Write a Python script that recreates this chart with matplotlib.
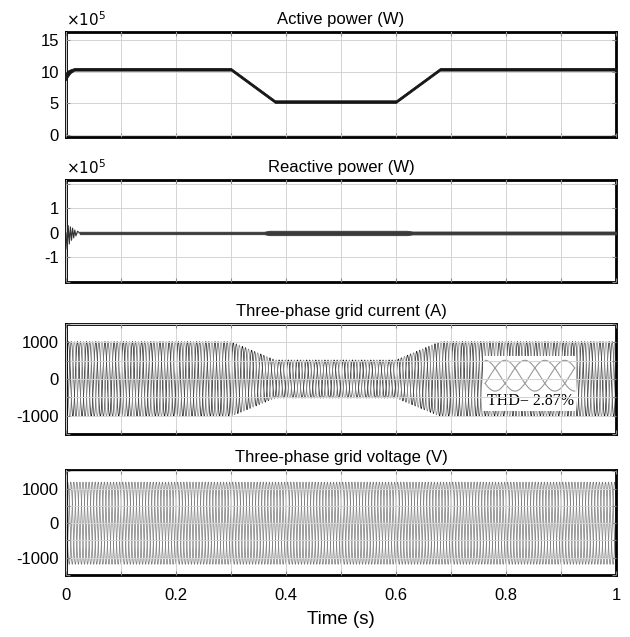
import numpy as np
import matplotlib
matplotlib.use('Agg')
import matplotlib.pyplot as plt
from matplotlib.patches import Rectangle

plt.rcParams['font.family'] = ['Liberation Sans', 'DejaVu Sans']

# ---- data ----
titles = ['Active power (W)', 'Reactive power (W)',
          'Three-phase grid current (A)', 'Three-phase grid voltage (V)']
time_ticks = [0, 0.1, 0.2, 0.3, 0.4, 0.5, 0.6, 0.7, 0.8, 0.9, 1.0]
time_labels = ['0', '', '0.2', '', '0.4', '', '0.6', '', '0.8', '', '1']

# active power, x10^5 W (centre of trace and half thickness of the noise band)
p_t = [0, 0.003, 0.008, 0.015, 0.3, 0.38, 0.6, 0.68, 1.0]
p_mid = [9.3, 9.7, 10.1, 10.4, 10.4, 5.3, 5.3, 10.4, 10.4]
p_half = [0.6, 0.5, 0.3, 0.2, 0.2, 0.2, 0.2, 0.2, 0.2]

# reactive power, x10^5 W: start-up transient then noise band
q_tr_t = [0, 0.002, 0.004, 0.006, 0.008, 0.010, 0.012, 0.014, 0.016, 0.018, 0.021, 0.025]
q_tr_v = [0, -0.65, 0.30, -0.45, 0.25, -0.30, 0.20, -0.20, 0.12, -0.12, 0.07, 0]
q_t = [0.025, 0.36, 0.37, 0.62, 0.63, 1.0]
q_half = [0.05, 0.05, 0.09, 0.09, 0.06, 0.06]

# grid current envelope (A)
i_t = [0, 0.3, 0.38, 0.6, 0.68, 1.0]
i_amp = [1020, 1020, 520, 520, 1020, 1020]
# grid voltage amplitude (V) and frequency (Hz)
v_amp = 1190
f_grid = 60
thd_text = 'THD= 2.87%'

ylims = [(-0.3, 16.3), (-2.0, 2.16), (-1450, 1480), (-1480, 1540)]
ygrid = [[0, 5, 10, 15], [-2, -1, 0, 1, 2],
         [-1500, -1000, -500, 0, 500, 1000, 1500],
         [-1500, -1000, -500, 0, 500, 1000, 1500]]
ylabels = [['0', '5', '10', '15'], ['', '-1', '0', '1', ''],
           ['', '-1000', '', '0', '', '1000', ''],
           ['', '-1000', '', '0', '', '1000', '']]

# ---- figure ----
fig = plt.figure(figsize=(6.3, 6.37), dpi=100)
W, H = 630.0, 637.0
boxes = [(32, 137), (180, 282), (324, 434), (470, 575)]
axes = []
for k, (top, bot) in enumerate(boxes):
    ax = fig.add_axes([66 / W, 1 - bot / H, 550 / W, (bot - top) / H])
    ax.set_xlim(0, 1)
    ax.set_ylim(*ylims[k])
    ax.set_xticks(time_ticks)
    ax.set_yticks(ygrid[k])
    ax.set_yticklabels(ylabels[k])
    if k == 3:
        ax.set_xticklabels(time_labels)
    else:
        ax.set_xticklabels([])
    ax.grid(True, color='#d4d4d4', lw=0.7)
    ax.tick_params(direction='in', length=3, width=0.8, color='#888888',
                   top=True, right=True, labelsize=12, pad=5)
    ax.tick_params(axis='x', pad=9)
    for s in ax.spines.values():
        s.set_linewidth(2)
        s.set_color('black')
    ax.set_title(titles[k], fontsize=12, pad=6)
    axes.append(ax)

# active power
ax = axes[0]
pm = np.array(p_mid)
ph = np.array(p_half)
ax.fill_between(p_t, pm - ph, pm + ph, color='#151515', lw=0.6, edgecolor='#151515', zorder=3)
ax.text(0, 1.03, r'$\times10^{5}$', transform=ax.transAxes, fontsize=11,
        ha='left', va='bottom')

# reactive power
ax = axes[1]
qh = np.array(q_half)
ax.plot(q_tr_t, q_tr_v, color='#333333', lw=0.8, zorder=3)
ax.fill_between(q_t, -qh, qh, color='#3a3a3a', lw=0.6, edgecolor='#3a3a3a', zorder=3)
ax.text(0, 1.03, r'$\times10^{5}$', transform=ax.transAxes, fontsize=11,
        ha='left', va='bottom')

# three-phase current and voltage
t = np.linspace(0, 1, 30001)
env = np.interp(t, i_t, i_amp)
phases = [0, -2 * np.pi / 3, 2 * np.pi / 3]
i_cols = ['#111111', '#444444', '#888888']
for ph_k, c in zip(phases, i_cols):
    axes[2].plot(t, env * np.sin(2 * np.pi * f_grid * t + ph_k), color=c, lw=0.5, zorder=1)
for ph_k in phases:
    axes[3].plot(t, v_amp * np.sin(2 * np.pi * f_grid * t + ph_k + 0.4), color='#777777', lw=0.5, zorder=1)

# inset with zoomed current waveform and THD
ax = axes[2]
ax.add_patch(Rectangle((0.758, -860), 0.169, 1475, facecolor='white',
                       edgecolor='none', zorder=1.2))
ti = np.linspace(0.762, 0.925, 400)
for ph_k in phases:
    ax.plot(ti, 90 + 420 * np.sin(2 * np.pi * 1.5 * (ti - 0.762) / 0.163 + ph_k + np.pi / 2),
            color='#999999', lw=0.8, zorder=1.3)
ax.text(0.845, -610, thd_text, family=['Liberation Serif', 'DejaVu Serif'],
        fontsize=11.5, ha='center', va='center', zorder=1.4)
for a in axes:
    a.set_axisbelow(False)

fig.text(341 / W, 1 - 620 / H, 'Time (s)', fontsize=13.5, ha='center', va='center')

fig.savefig('out.png', dpi=100)
